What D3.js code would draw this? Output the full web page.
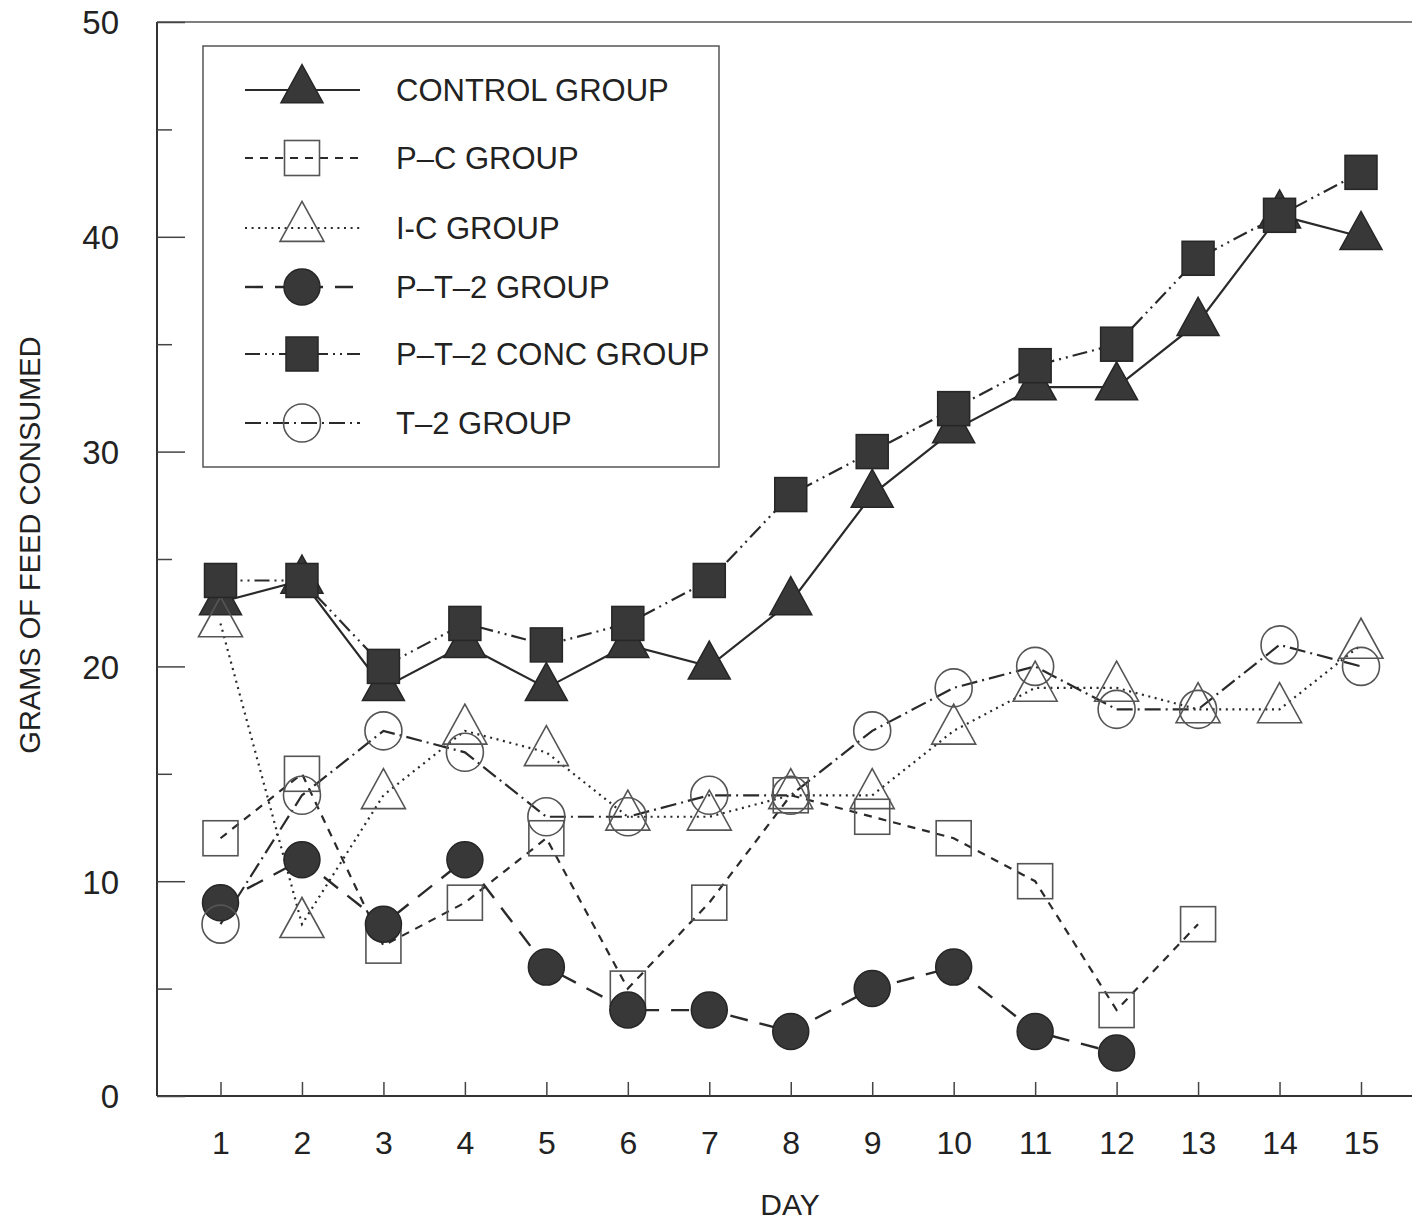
<!DOCTYPE html>
<html>
<head>
<meta charset="utf-8">
<script src="https://cdn.jsdelivr.net/npm/d3@7"></script>
<style>
  body { margin: 0; background: #fff; }
  svg text { font-family: "Liberation Sans", Arial, sans-serif; fill: #222; }
</style>
</head>
<body>
<svg width="1412" height="1223"></svg>
<script>
const days = [1, 2, 3, 4, 5, 6, 7, 8, 9, 10, 11, 12, 13, 14, 15];
const yMajorTicks = [0, 10, 20, 30, 40, 50];
const yMinorTicks = [5, 15, 25, 35, 45];

const controlGroup = [23, 24, 19, 21, 19, 21, 20, 23, 28, 31, 33, 33, 36, 41, 40];
const pcGroup = [12, 15, 7, 9, 12, 5, 9, 14, 13, 12, 10, 4, 8, null, null];
const icGroup = [22, 8, 14, 17, 16, 13, 13, 14, 14, 17, 19, 19, 18, 18, 21];
const pt2Group = [9, 11, 8, 11, 6, 4, 4, 3, 5, 6, 3, 2, null, null, null];
const pt2ConcGroup = [24, 24, 20, 22, 21, 22, 24, 28, 30, 32, 34, 35, 39, 41, 43];
const t2Group = [8, 14, 17, 16, 13, 13, 14, 14, 17, 19, 20, 18, 18, 21, 20];

const seriesNames = ["CONTROL GROUP", "P\u2013C GROUP", "I-C GROUP", "P\u2013T\u20132 GROUP", "P\u2013T\u20132 CONC GROUP", "T\u20132 GROUP"];

// how each group is drawn
const styles = [
    { values: controlGroup, dash: null, width: 2.2, marker: "triangle", filled: true },
    { values: pcGroup, dash: "8,7", width: 2.2, marker: "square", filled: false },
    { values: icGroup, dash: "2,4.6", width: 2.2, marker: "triangle", filled: false },
    { values: pt2Group, dash: "18,12", width: 2.4, marker: "circle", filled: true },
    { values: pt2ConcGroup, dash: "15,5,2,5,2,5", width: 2.2, marker: "square", filled: true },
    { values: t2Group, dash: "16,5,2,5", width: 2.2, marker: "circle", filled: false }
];

const plotLeft = 157, plotRight = 1412, plotTop = 22, plotBottom = 1096;

const svg = d3.select("svg");

const xScale = d3.scaleLinear()
    .domain([1, 15])
    .range([220.5, 1361]);

const yScale = d3.scaleLinear()
    .domain([0, 50])
    .range([plotBottom, plotTop]);

// frame
svg.append("line").attr("x1", plotLeft).attr("x2", plotLeft).attr("y1", plotTop).attr("y2", plotBottom)
    .attr("stroke", "#333").attr("stroke-width", 2);
svg.append("line").attr("x1", plotLeft).attr("x2", plotRight).attr("y1", plotBottom).attr("y2", plotBottom)
    .attr("stroke", "#333").attr("stroke-width", 2);
svg.append("line").attr("x1", plotLeft).attr("x2", plotRight).attr("y1", plotTop).attr("y2", plotTop)
    .attr("stroke", "#555").attr("stroke-width", 1.5);

// y axis, ticks point into the plot
let yAxis = d3.axisLeft(yScale)
    .tickValues(yMajorTicks)
    .tickSizeInner(-28)
    .tickSizeOuter(0)
    .tickPadding(38);

let yAxisGroup = svg.append("g")
    .attr("transform", `translate(${plotLeft}, 0)`)
    .call(yAxis);
yAxisGroup.select(".domain").remove();
yAxisGroup.selectAll("line").attr("stroke", "#444").attr("stroke-width", 1.5);
yAxisGroup.selectAll("text")
    .attr("font-family", "Liberation Sans, Arial, sans-serif")
    .attr("font-size", 33)
    .attr("fill", "#222")
    .attr("dy", "0.36em");

let yMinorGroup = svg.append("g")
    .attr("transform", `translate(${plotLeft}, 0)`)
    .call(d3.axisLeft(yScale).tickValues(yMinorTicks).tickSizeInner(-15).tickSizeOuter(0).tickFormat(""));
yMinorGroup.select(".domain").remove();
yMinorGroup.selectAll("line").attr("stroke", "#444").attr("stroke-width", 1.5);

// x axis
let xAxis = d3.axisBottom(xScale)
    .tickValues(days)
    .tickSizeInner(-14)
    .tickSizeOuter(0)
    .tickPadding(35)
    .tickFormat(d3.format("d"));

let xAxisGroup = svg.append("g")
    .attr("transform", `translate(0, ${plotBottom})`)
    .call(xAxis);
xAxisGroup.select(".domain").remove();
xAxisGroup.selectAll("line").attr("stroke", "#444").attr("stroke-width", 1.5);
xAxisGroup.selectAll("text")
    .attr("font-family", "Liberation Sans, Arial, sans-serif")
    .attr("font-size", 32)
    .attr("fill", "#222");

//axis titles
svg.append("text")
    .attr("x", 790)
    .attr("y", 1204)
    .attr("text-anchor", "middle")
    .attr("dominant-baseline", "central")
    .attr("font-size", 30)
    .text("DAY");

svg.append("text")
    .attr("transform", "translate(30, 545) rotate(-90)")
    .attr("text-anchor", "middle")
    .attr("dominant-baseline", "central")
    .attr("font-size", 29)
    .text("GRAMS OF FEED CONSUMED");

// marker drawing
function drawMarker(g, type, filled, cx, cy) {
    let fill = filled ? "#383838" : "none";
    let stroke = filled ? "#262626" : "#555";
    let sw = filled ? 1.5 : 1.6;
    if (type === "triangle") {
        let w = filled ? 42 : 44, h = filled ? 38 : 40;
        g.append("path")
            .attr("d", `M${cx},${cy - h * 2 / 3} L${cx + w / 2},${cy + h / 3} L${cx - w / 2},${cy + h / 3} Z`)
            .attr("fill", fill).attr("stroke", stroke).attr("stroke-width", sw);
    } else if (type === "square") {
        let w = filled ? 32 : 35, h = filled ? 34 : 35;
        g.append("rect")
            .attr("x", cx - w / 2).attr("y", cy - h / 2)
            .attr("width", w).attr("height", h)
            .attr("fill", fill).attr("stroke", stroke).attr("stroke-width", sw);
    } else {
        g.append("ellipse")
            .attr("cx", cx).attr("cy", cy)
            .attr("rx", filled ? 18 : 18.5).attr("ry", filled ? 18 : 19)
            .attr("fill", fill).attr("stroke", stroke).attr("stroke-width", sw);
    }
}

let line = d3.line()
    .defined(d => d.v !== null)
    .x(d => xScale(d.day))
    .y(d => yScale(d.v));

// series lines first, markers on top
styles.forEach(function(s) {
    let pts = days.map((day, i) => ({ day: day, v: s.values[i] }));
    svg.append("path")
        .datum(pts)
        .attr("d", line)
        .attr("fill", "none")
        .attr("stroke", "#2a2a2a")
        .attr("stroke-width", s.width)
        .attr("stroke-dasharray", s.dash);
});

styles.forEach(function(s) {
    let g = svg.append("g");
    days.forEach(function(day, i) {
        if (s.values[i] === null) return;
        drawMarker(g, s.marker, s.filled, xScale(day), yScale(s.values[i]));
    });
});

// legend
const legendRows = [90, 158, 228, 287, 354, 423];
let legend = svg.append("g");
legend.append("rect")
    .attr("x", 203).attr("y", 46)
    .attr("width", 516).attr("height", 421)
    .attr("fill", "#fff")
    .attr("stroke", "#555")
    .attr("stroke-width", 1.5);

styles.forEach(function(s, i) {
    let ly = legendRows[i];
    legend.append("line")
        .attr("x1", 245).attr("x2", 360)
        .attr("y1", ly).attr("y2", ly)
        .attr("stroke", "#2a2a2a")
        .attr("stroke-width", s.width)
        .attr("stroke-dasharray", s.dash);
    drawMarker(legend, s.marker, s.filled, 302, ly);
    legend.append("text")
        .attr("x", 396)
        .attr("y", ly)
        .attr("dominant-baseline", "central")
        .attr("font-size", 31)
        .text(seriesNames[i]);
});
</script>
</body>
</html>
